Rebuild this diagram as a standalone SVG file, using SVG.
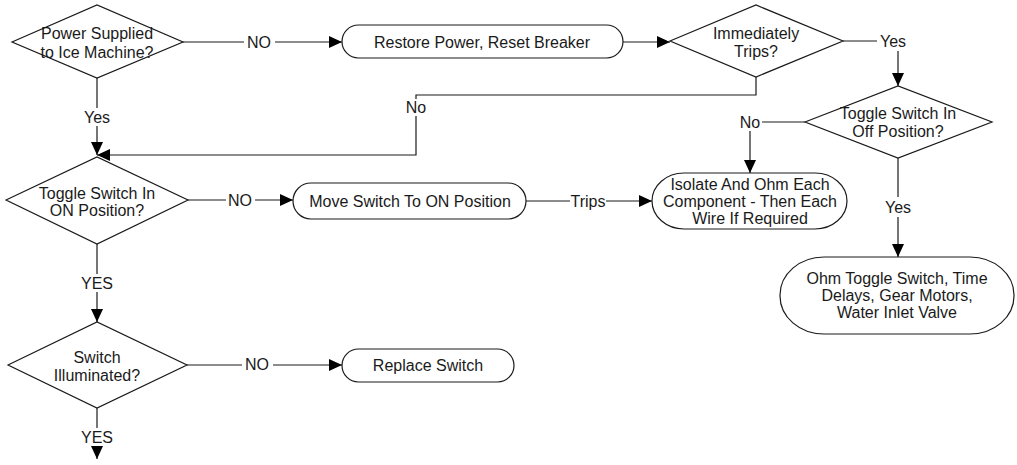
<svg xmlns="http://www.w3.org/2000/svg" width="1017" height="465" viewBox="0 0 1017 465">
<style>
.n{fill:#fff;stroke:#1a1a1a;stroke-width:1.2}
.t{font-family:"Liberation Sans",Arial,sans-serif;font-size:16px;fill:#1a1a1a;text-anchor:middle;dominant-baseline:central}
.c{fill:none;stroke:#1a1a1a;stroke-width:1.2}
</style>
<defs>
<marker id="a" markerUnits="userSpaceOnUse" markerWidth="14" markerHeight="12" refX="13" refY="6" orient="auto">
<path d="M0,0 L13,6 L0,12 z" fill="#000"/>
</marker>
</defs>
<rect width="1017" height="465" fill="#fff"/>
<g id="connectors">
<path class="c" d="M183,42 H244"/><text class="t" x="259" y="42">NO</text><path class="c" d="M275,42 H342" marker-end="url(#a)"/>
<path class="c" d="M623,42 H670" marker-end="url(#a)"/>
<path class="c" d="M843,41 H877"/><text class="t" x="893" y="41">Yes</text><path class="c" d="M898,51 V86" marker-end="url(#a)"/>
<path class="c" d="M805,122 H762"/><text class="t" x="750" y="122">No</text><path class="c" d="M750,131 V173" marker-end="url(#a)"/>
<path class="c" d="M898,158 V197"/><text class="t" x="898" y="207">Yes</text><path class="c" d="M898,217 V257" marker-end="url(#a)"/>
<path class="c" d="M756,77 V95 H416 V99"/><text class="t" x="416" y="107">No</text><path class="c" d="M416,116 V155 H97" marker-end="url(#a)"/>
<path class="c" d="M97,77 V108"/><text class="t" x="97" y="117">Yes</text><path class="c" d="M97,126 V155" marker-end="url(#a)"/>
<path class="c" d="M188,200 H226"/><text class="t" x="240" y="200">NO</text><path class="c" d="M255,200 H293" marker-end="url(#a)"/>
<path class="c" d="M526,201 H570"/><text class="t" x="588" y="201">Trips</text><path class="c" d="M606,201 H652" marker-end="url(#a)"/>
<path class="c" d="M97,244 V274"/><text class="t" x="97" y="283">YES</text><path class="c" d="M97,292 V322" marker-end="url(#a)"/>
<path class="c" d="M187,365 H242"/><text class="t" x="257" y="364">NO</text><path class="c" d="M273,365 H342" marker-end="url(#a)"/>
<path class="c" d="M97,408 V428"/><text class="t" x="97" y="437">YES</text><path class="c" d="M97,446 V459" marker-end="url(#a)"/>
</g>
<g id="d1"><polygon class="n" points="12,42 97,5 183,42 97,78"/><text class="t" x="97" y="33">Power Supplied</text><text class="t" x="97" y="52">to Ice Machine?</text></g>
<g id="restore"><rect class="n" x="342" y="25" width="281" height="33" rx="16.5"/><text class="t" x="482" y="42">Restore Power, Reset Breaker</text></g>
<g id="d2"><polygon class="n" points="670,41 756,5 843,41 756,77"/><text class="t" x="756" y="33">Immediately</text><text class="t" x="756" y="51">Trips?</text></g>
<g id="d3"><polygon class="n" points="805,122 898,86 992,122 898,158"/><text class="t" x="898" y="113">Toggle Switch In</text><text class="t" x="898" y="131">Off Position?</text></g>
<g id="isolate"><rect class="n" x="652" y="173" width="195" height="56" rx="32" ry="28"/><text class="t" x="750" y="184">Isolate And Ohm Each</text><text class="t" x="750" y="201">Component - Then Each</text><text class="t" x="750" y="218">Wire If Required</text></g>
<g id="ohm"><rect class="n" x="780" y="257" width="234" height="77" rx="44" ry="38"/><text class="t" x="897" y="278">Ohm Toggle Switch, Time</text><text class="t" x="897" y="295">Delays, Gear Motors,</text><text class="t" x="897" y="312">Water Inlet Valve</text></g>
<g id="d4"><polygon class="n" points="6,200 97,157 188,200 97,244"/><text class="t" x="97" y="193">Toggle Switch In</text><text class="t" x="97" y="210">ON Position?</text></g>
<g id="move"><rect class="n" x="293" y="183" width="233" height="36" rx="18"/><text class="t" x="410" y="201">Move Switch To ON Position</text></g>
<g id="d5"><polygon class="n" points="8,365 97,322 187,365 97,408"/><text class="t" x="97" y="357">Switch</text><text class="t" x="97" y="375">Illuminated?</text></g>
<g id="replace"><rect class="n" x="342" y="349" width="172" height="33" rx="16.5"/><text class="t" x="428" y="365">Replace Switch</text></g>
</svg>
